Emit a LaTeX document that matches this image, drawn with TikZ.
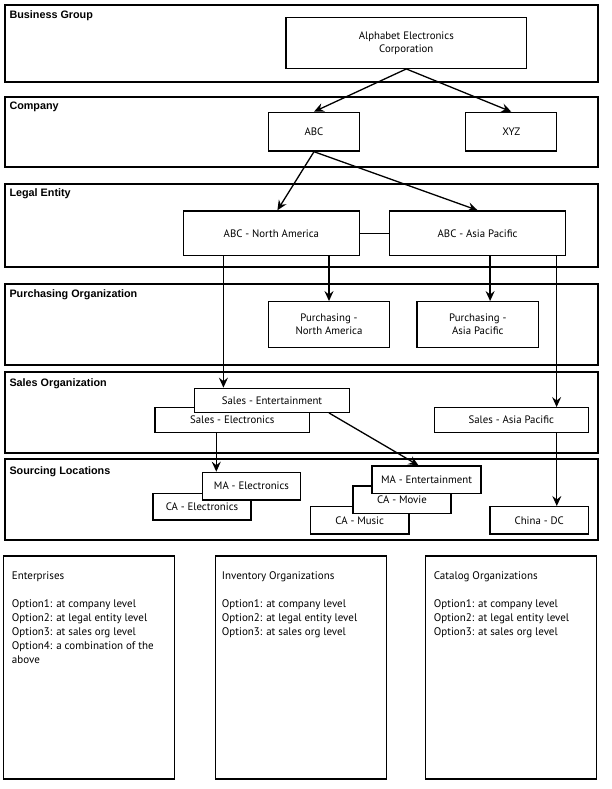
\documentclass[tikz,border=0pt]{standalone}
\usepackage{fontspec}
\setmainfont{PT Sans}
\newfontfamily\bandfont{Liberation Sans}
\usetikzlibrary{arrows.meta,positioning}

\begin{document}
\begin{tikzpicture}
  [x=1pt,y=-1pt,
   band/.style={draw=black,line width=1.8pt,minimum width=593pt,inner sep=0pt},
   bandlabel/.style={anchor=west,inner sep=0pt,
     font=\bandfont\bfseries\fontsize{10.8}{12}\selectfont},
   unit/.style={draw=black,fill=white,line width=1.3pt,inner sep=0pt,
     align=center,font=\fontsize{10.8}{13}\selectfont},
   note/.style={draw=black,line width=1.6pt,minimum width=171pt,
     minimum height=223pt,inner sep=0pt},
   notetext/.style={anchor=north west,align=left,inner sep=0pt,
     font=\fontsize{11}{14}\selectfont},
   arr/.style={line width=1.3pt,-{Stealth[length=10pt,width=9pt,inset=3.5pt]}}]
  \useasboundingbox (0,0) rectangle (612,789);
  %---------------------bands------------
  \node (bg)  at (301.5,43.3)  [band,minimum height=76.7pt] {};
  \node (co)  at (301.5,131.7) [band,minimum height=70pt] {};
  \node (le)  at (301.5,225.2) [band,minimum height=83pt] {};
  \node (po)  at (301.5,324.5) [band,minimum height=81pt] {};
  \node (so)  at (301.5,412.2) [band,minimum height=81pt] {};
  \node (sl)  at (301.5,499.5) [band,minimum height=81pt] {};
  \node (lbg) at (9.3,15.3)  [bandlabel] {Business Group};
  \node (lco) at (9.3,106.7) [bandlabel] {Company};
  \node (lle) at (9.3,194)   [bandlabel] {Legal Entity};
  \node (lpo) at (9.3,294.3) [bandlabel] {Purchasing Organization};
  \node (lso) at (9.3,383.3) [bandlabel] {Sales Organization};
  \node (lsl) at (9.3,471.3) [bandlabel] {Sourcing Locations};
  %---------------------units------------
  \node (alpha) at (406.3,42.8) [unit,minimum width=240.5pt,minimum height=51pt]
    {Alphabet Electronics\\Corporation};
  \node (abc) at (314,131.7)   [unit,minimum width=90.7pt,minimum height=38.7pt] {ABC};
  \node (xyz) at (511.3,131.7) [unit,minimum width=91pt,minimum height=38.7pt] {XYZ};
  \node (abcna) at (271.4,233.3) [unit,minimum width=176pt,minimum height=44.7pt]
    {ABC - North America};
  \node (abcap) at (477.6,233.3) [unit,minimum width=176.4pt,minimum height=44.7pt]
    {ABC - Asia Pacific};
  \node (purna) at (329,324.5)   [unit,minimum width=120.7pt,minimum height=45.6pt]
    {Purchasing -\\North America};
  \node (purap) at (477.8,324.5) [unit,minimum width=121.6pt,minimum height=45.6pt]
    {Purchasing -\\Asia Pacific};
  %----sales------
  \node (salelec) at (232.3,420) [unit,minimum width=154.6pt,minimum height=24.6pt]
    {Sales - Electronics};
  \node (salent) at (272,400.3)  [unit,minimum width=154.6pt,minimum height=24pt]
    {Sales - Entertainment};
  \node (salap) at (511.3,420)   [unit,minimum width=154.2pt,minimum height=24.6pt]
    {Sales - Asia Pacific};
  %----sourcing------
  \node (caelec) at (202,506.7)   [unit,minimum width=98pt,minimum height=26.7pt] {CA - Electronics};
  \node (maelec) at (251.5,486.2) [unit,minimum width=98pt,minimum height=27.7pt] {MA - Electronics};
  \node (camus) at (359.7,520.3)  [unit,minimum width=98.5pt,minimum height=27.3pt] {CA - Music};
  \node (camov) at (402,499.7)    [unit,minimum width=98pt,minimum height=27.3pt] {CA - Movie};
  \node (maent) at (426.5,479.7)  [unit,minimum width=109pt,minimum height=27.3pt] {MA - Entertainment};
  \node (china) at (539.2,520.3)  [unit,minimum width=98.4pt,minimum height=27.3pt] {China - DC};
  %---------------------connectors------------
  \draw[arr] (alpha.south) -- (abc.north);
  \draw[arr] (alpha.south) -- (xyz.north);
  \draw[arr] (abc.south) -- ([xshift=6pt]abcna.north);
  \draw[arr] (abc.south) -- (abcap.north);
  \draw[line width=1.3pt] (abcna) -- (abcap);
  \draw[arr] ([xshift=-48pt]abcna.south) -- ([xshift=-48pt]abcna.south |- salent.north);
  \draw[arr] (abcna.south -| purna.north) -- (purna.north);
  \draw[arr] ([xshift=12.5pt]abcap.south) -- ([xshift=12.5pt]abcap.south |- purap.north);
  \draw[arr] ([xshift=79pt]abcap.south) -- ([xshift=79pt]abcap.south |- salap.north);
  \draw[arr] ([xshift=45.5pt]salap.south) -- ([xshift=45.5pt]salap.south |- china.north);
  \draw[arr] ([xshift=-16pt]salelec.south) -- ([xshift=-16pt]salelec.south |- maelec.north);
  \draw[arr] ([xshift=57pt]salent.south) -- ([xshift=-8pt]maent.north);
  %---------------------options------------
  \node (ent) at (89,667.7)    [note] {};
  \node (inv) at (301,667.7)   [note] {};
  \node (cat) at (510.9,667.7) [note] {};
  \node (tent) [notetext,below right=16pt and 9pt of ent.north west]
    {Enterprises\\[14pt]Option1: at company level\\Option2: at legal entity level\\
     Option3: at sales org level\\Option4: a combination of the\\above};
  \node (tinv) [notetext,below right=16pt and 7pt of inv.north west]
    {Inventory Organizations\\[14pt]Option1: at company level\\Option2: at legal entity level\\
     Option3: at sales org level};
  \node (tcat) [notetext,below right=16pt and 9pt of cat.north west]
    {Catalog Organizations\\[14pt]Option1: at company level\\Option2: at legal entity level\\
     Option3: at sales org level};
\end{tikzpicture}
\end{document}
